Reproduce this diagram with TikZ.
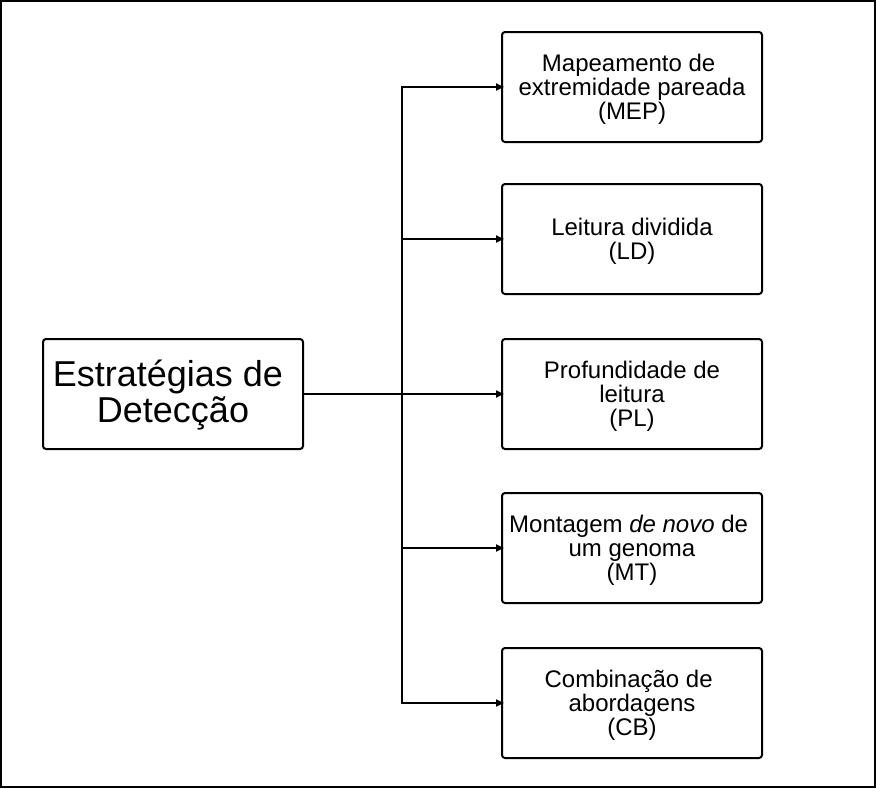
\documentclass[tikz,border=0pt]{standalone}
\usepackage{fontspec}
\setmainfont{Liberation Sans}
\usetikzlibrary{arrows.meta}
\newcommand{\tsp}{\kern0.28em}
\begin{document}
\begin{tikzpicture}[x=1pt,y=-1pt,
  box/.style={draw, line width=2pt, rounded corners=3pt, minimum width=260pt, minimum height=110pt, inner sep=0pt},
  smalltxt/.style={font=\fontsize{24}{24}\selectfont, align=center, inner sep=0pt},
  bigtxt/.style={font=\fontsize{36}{36}\selectfont, align=center, inner sep=0pt},
  conn/.style={line width=2pt, -{Triangle[length=8pt,width=7pt]}, shorten >=-3pt}]
\useasboundingbox (0,0) rectangle (876,788);
\draw[line width=2pt] (1,1) rectangle (875,787);
\node[box] (L) at (173,394) {};
\node[bigtxt] (Lt) at ([yshift=-1pt]L.center) {Estratégias de\tsp\\Detecção};
\node[box] (R1) at (632,87) {};
\node[box] (R2) at (632,239) {};
\node[box] (R3) at (632,394) {};
\node[box] (R4) at (632,548) {};
\node[box] (R5) at (632,703) {};
\node[smalltxt] (T1) at ([yshift=-2pt]R1.center) {Mapeamento de\tsp\\extremidade pareada\\(MEP)};
\node[smalltxt] (T2) at ([yshift=-2pt]R2.center) {Leitura dividida\\(LD)};
\node[smalltxt] (T3) at ([yshift=-2pt]R3.center) {Profundidade de\\leitura\\(PL)};
\node[smalltxt] (T4) at ([yshift=-2pt]R4.center) {Montagem \textit{de novo} de\tsp\\um genoma\\(MT)};
\node[smalltxt] (T5) at ([yshift=-2pt]R5.center) {Combinação de\tsp\\abordagens\\(CB)};
\coordinate (T) at (402,394);
\draw[conn] (L.east) -- (T) |- (R1.west);
\draw[conn] (L.east) -- (T) |- (R2.west);
\draw[conn, line width=2.5pt] (L.east) -- (R3.west);
\draw[conn] (L.east) -- (T) |- (R4.west);
\draw[conn] (L.east) -- (T) |- (R5.west);
\end{tikzpicture}
\end{document}
